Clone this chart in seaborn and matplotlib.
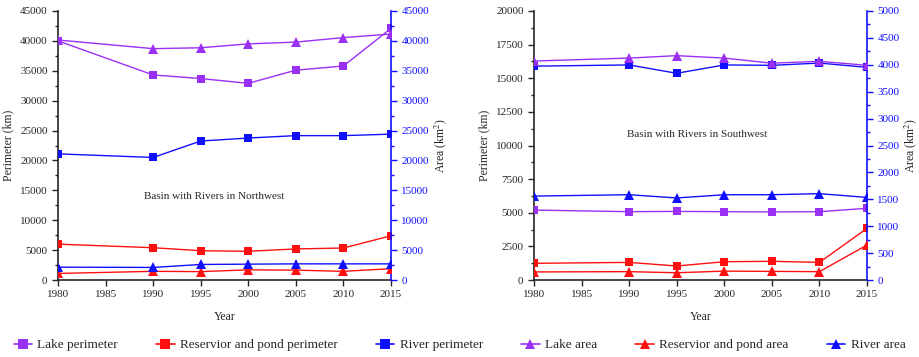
import matplotlib
matplotlib.use('Agg')
import matplotlib.pyplot as plt
from matplotlib.lines import Line2D
from matplotlib.ticker import MultipleLocator, AutoMinorLocator
import seaborn as sns

years = [1980, 1990, 1995, 2000, 2005, 2010, 2015]

# Northwest basin (perimeter km on left axis, area km2 on right axis)
nw_lake_perim = [40000, 34300, 33700, 32900, 35100, 35800, 42100]
nw_res_perim = [6000, 5400, 4900, 4800, 5200, 5350, 7400]
nw_river_perim = [21100, 20500, 23250, 23750, 24150, 24150, 24400]
nw_lake_area = [40150, 38700, 38850, 39500, 39800, 40550, 41150]
nw_res_area = [1100, 1450, 1400, 1700, 1650, 1450, 1900]
nw_river_area = [2150, 2100, 2600, 2650, 2700, 2700, 2700]

# Southwest basin
sw_lake_perim = [5200, 5080, 5100, 5080, 5060, 5080, 5330]
sw_res_perim = [1240, 1310, 1040, 1360, 1390, 1310, 3840]
sw_river_perim = [15900, 15990, 15370, 15990, 15960, 16130, 15810]
sw_lake_area = [4070, 4125, 4170, 4125, 4030, 4065, 3990]
sw_res_area = [150, 155, 135, 165, 160, 155, 650]
sw_river_area = [1560, 1585, 1525, 1585, 1585, 1605, 1535]

legend_labels = ['Lake perimeter', 'Reservior and pond perimeter', 'River perimeter',
                 'Lake area', 'Reservior and pond area', 'River area']

purple = '#9B30F5'
red = '#FF1010'
blue = '#1010FF'

sns.set_style('ticks')
plt.rcParams['font.family'] = ['Liberation Serif', 'DejaVu Serif']
plt.rcParams['mathtext.fontset'] = 'stix'

fig = plt.figure(figsize=(9.19, 3.57), dpi=100)
ax1 = fig.add_axes([58 / 919, 77 / 357, 333 / 919, 269 / 357])
ax2 = fig.add_axes([534 / 919, 77 / 357, 333 / 919, 269 / 357])


def draw(ax, perims, areas, ymax, amax, ystep, astep, title, tpos):
    axr = ax.twinx()
    colors = [purple, red, blue]
    for vals, c in zip(perims, colors):
        sns.lineplot(x=years, y=vals, ax=ax, color=c, marker='s', markersize=5.5,
                     markeredgewidth=0, linewidth=1, zorder=3)
    for vals, c in zip(areas, colors):
        sns.lineplot(x=years, y=vals, ax=axr, color=c, marker='^', markersize=6.5,
                     markeredgewidth=0, linewidth=1, zorder=3)
    ax.set_xlim(1980, 2015)
    ax.set_ylim(0, ymax)
    axr.set_ylim(0, amax)
    ax.xaxis.set_major_locator(MultipleLocator(5))
    ax.yaxis.set_major_locator(MultipleLocator(ystep))
    ax.yaxis.set_minor_locator(AutoMinorLocator(2))
    axr.yaxis.set_major_locator(MultipleLocator(astep))
    axr.yaxis.set_minor_locator(AutoMinorLocator(2))
    ax.tick_params(axis='both', which='major', labelsize=8, length=4, width=1)
    ax.tick_params(axis='y', which='minor', length=2.5, width=1)
    axr.tick_params(axis='y', which='major', labelsize=8, length=4, width=1,
                    colors=blue)
    axr.tick_params(axis='y', which='minor', length=2.5, width=1, colors=blue)
    for a in (ax, axr):
        a.spines['top'].set_visible(False)
    ax.spines['right'].set_visible(False)
    axr.spines['left'].set_visible(False)
    axr.spines['bottom'].set_visible(False)
    axr.spines['right'].set_color(blue)
    axr.spines['right'].set_linewidth(1.2)
    ax.spines['left'].set_linewidth(1.2)
    ax.spines['bottom'].set_linewidth(1.2)
    ax.set_xlabel('Year', fontsize=8.5, labelpad=8)
    ax.set_ylabel('Perimeter (km)', fontsize=8.5)
    axr.set_ylabel('Area (km$^2$)', fontsize=8.5, color='#222222', labelpad=2)
    ax.text(tpos[0], tpos[1], title, transform=ax.transAxes, ha='center',
            va='center', fontsize=8)


draw(ax1, [nw_lake_perim, nw_res_perim, nw_river_perim],
     [nw_lake_area, nw_res_area, nw_river_area],
     45000, 45000, 5000, 5000, 'Basin with Rivers in Northwest', (0.47, 0.31))
draw(ax2, [sw_lake_perim, sw_res_perim, sw_river_perim],
     [sw_lake_area, sw_res_area, sw_river_area],
     20000, 5000, 2500, 500, 'Basin with Rivers in Southwest', (0.49, 0.54))

handles = []
for c, m in [(purple, 's'), (red, 's'), (blue, 's'), (purple, '^'), (red, '^'), (blue, '^')]:
    handles.append(Line2D([0], [0], color=c, marker=m, markersize=7,
                          markeredgewidth=0, linewidth=1.2))
fig.legend(handles, legend_labels, loc='center', bbox_to_anchor=(0.5, 12 / 357),
           ncol=6, frameon=False, fontsize=9.5, handlelength=1.4,
           columnspacing=2.9, handletextpad=0.4)

fig.savefig('out.png', dpi=100)
